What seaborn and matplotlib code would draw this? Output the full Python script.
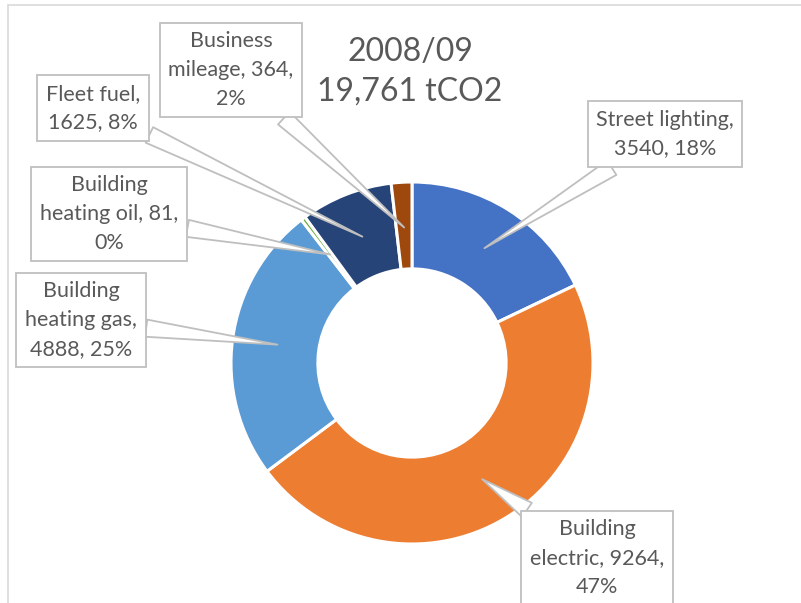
import numpy as np
import matplotlib
matplotlib.use("Agg")
import matplotlib.pyplot as plt
import seaborn as sns
from matplotlib.patches import Rectangle

# data, clockwise from 12 o'clock
categories = ["Street lighting", "Building electric", "Building heating gas",
              "Building heating oil", "Fleet fuel", "Business mileage"]
values = [3540, 9264, 4888, 81, 1625, 364]
label_texts = ["Street lighting,\n3540, 18%",
               "Building\nelectric, 9264,\n47%",
               "Building\nheating gas,\n4888, 25%",
               "Building\nheating oil, 81,\n0%",
               "Fleet fuel,\n1625, 8%",
               "Business\nmileage, 364,\n2%"]
colors = ["#4472C4", "#ED7D31", "#5B9BD5", "#70AD47", "#264478", "#9E480E"]
title_lines = ["2008/09", "19,761 tCO2"]

# label box centres in pixels (x from left, y from top)
label_pos = [(665, 134), (597, 558), (81, 320), (109, 214), (93, 108), (231, 70)]

W, H = 801, 603
sns.set_theme(style="white")
plt.rcParams["font.family"] = ["Lato", "DejaVu Sans"]
text_col = "#595959"

fig = plt.figure(figsize=(W / 100, H / 100), dpi=100)

# chart frame
fig.patches.append(Rectangle((8 / W, -0.1), 1.2, 1.1 - 5 / H, transform=fig.transFigure,
                             fill=False, edgecolor="#D9D9D9", linewidth=1.2))

cx, cy, R = 412, 363, 181
ax = fig.add_axes([(cx - R) / W, (H - cy - R) / H, 2 * R / W, 2 * R / H])
wedges, _ = ax.pie(values, colors=colors, startangle=90, counterclock=False,
                   radius=1.0, wedgeprops=dict(width=0.48, edgecolor="white", linewidth=2.2))
ax.set_xlim(-1, 1)
ax.set_ylim(-1, 1)
ax.set_aspect("equal")
ax.axis("off")

for w, txt, (px, py) in zip(wedges, label_texts, label_pos):
    ang = np.deg2rad((w.theta1 + w.theta2) / 2)
    tip = (0.75 * np.cos(ang), 0.75 * np.sin(ang))
    ax.annotate(txt, xy=tip, xycoords="data",
                xytext=(px / W, 1 - py / H), textcoords="figure fraction",
                ha="center", va="center", fontsize=15.5, color=text_col,
                linespacing=1.55, annotation_clip=False,
                bbox=dict(boxstyle="square,pad=0.4", fc="white", ec="#BFBFBF", lw=1.3),
                arrowprops=dict(arrowstyle="wedge,tail_width=0.8,shrink_factor=0.5",
                                fc="white", ec="#BFBFBF", lw=1.3,
                                shrinkA=0, shrinkB=0))

fig.text(410 / W, 1 - 72 / H, "\n".join(title_lines), ha="center", va="center",
         fontsize=23, color=text_col, linespacing=1.4)

fig.savefig("out.png", dpi=100)
